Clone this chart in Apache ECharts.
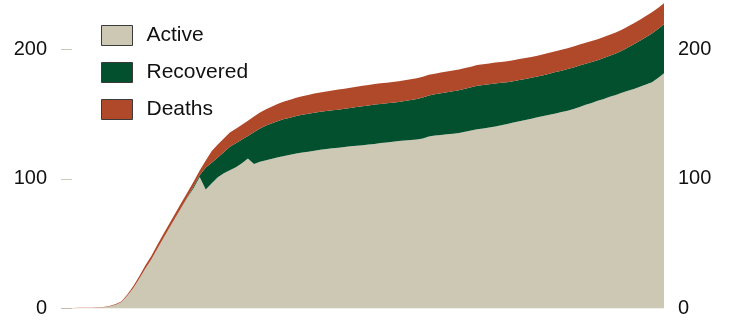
<!DOCTYPE html>
<html>
<head>
<meta charset="utf-8">
<script src="https://cdn.jsdelivr.net/npm/echarts@6/dist/echarts.min.js"></script>
<style>
html,body{margin:0;padding:0;background:#fff;}
#chart{width:733px;height:320px;}
</style>
</head>
<body>
<div id="chart"></div>
<script>
const seriesNames = ['Active', 'Recovered', 'Deaths'];
const yTicks = [0, 100, 200];

const active = [
  0.2, 0.2, 0.2, 0.3, 0.3, 0.4, 0.7, 0.9, 1.6, 2.7,
  4.8, 9.8, 15.8, 23.1, 30.8, 37.9, 46.3, 54.4, 62.3, 70.2,
  78.1, 85.8, 93.0, 101.5, 91.8, 96.6, 101.2, 104.4, 106.7, 109.0,
  112.1, 115.8, 111.4, 113.2, 114.3, 115.5, 116.6, 117.6, 118.6, 119.5,
  120.4, 121.0, 121.7, 122.4, 123.0, 123.6, 124.1, 124.6, 125.1, 125.6,
  126.0, 126.5, 127.0, 127.6, 128.1, 128.7, 129.3, 129.7, 130.0, 130.3,
  131.2, 132.7, 133.4, 133.9, 134.4, 134.9, 135.4, 136.3, 137.3, 138.2,
  138.9, 139.6, 140.5, 141.4, 142.4, 143.4, 144.4, 145.4, 146.4, 147.5,
  148.5, 149.5, 150.5, 151.6, 152.6, 153.9, 155.5, 157.1, 158.6, 160.2,
  161.7, 163.3, 164.8, 166.4, 167.9, 169.4, 171.0, 172.8, 174.6, 177.8,
  181.4
];
const recovered = [
  0, 0, 0, 0, 0, 0, 0, 0, 0, 0,
  0, 0, 0, 0, 0, 0, 0, 0, 0.1, 0.2,
  0.3, 0.5, 1.3, 1.3, 16.9, 15.9, 15.3, 16.2, 18.0, 18.5,
  18.2, 17.3, 24.6, 25.6, 26.8, 27.4, 28.1, 28.5, 28.6, 29.0,
  29.1, 29.2, 29.3, 29.3, 29.3, 29.3, 29.3, 29.5, 29.6, 29.8,
  30.1, 30.2, 30.3, 30.2, 30.2, 30.1, 30.0, 30.3, 30.8, 31.3,
  31.6, 31.6, 31.8, 32.1, 32.4, 32.7, 33.0, 33.2, 33.3, 33.6,
  33.6, 33.4, 33.1, 32.7, 32.2, 32.0, 31.9, 31.7, 31.6, 31.4,
  31.5, 31.7, 31.9, 31.9, 32.1, 32.1, 31.9, 31.7, 31.6, 31.4,
  31.5, 31.7, 32.0, 32.4, 33.4, 34.5, 35.5, 36.5, 37.6, 37.8,
  37.8
];
const deaths = [
  0.2, 0.2, 0.2, 0.2, 0.2, 0.2, 0.3, 0.3, 0.4, 0.5,
  0.6, 1.0, 1.5, 2.0, 2.5, 2.8, 3.0, 3.2, 3.3, 3.4,
  3.5, 3.5, 3.6, 3.6, 5.5, 9.0, 10.0, 10.5, 11.0, 11.2,
  11.5, 11.8, 12.1, 12.4, 12.6, 12.9, 13.2, 13.5, 13.8, 14.0,
  14.3, 14.5, 14.8, 15.0, 15.1, 15.3, 15.5, 15.5, 15.6, 15.7,
  15.7, 15.8, 15.8, 15.9, 15.9, 16.0, 16.0, 16.0, 16.0, 16.0,
  16.0, 16.0, 16.0, 16.0, 16.0, 16.0, 16.0, 16.0, 16.0, 16.0,
  16.0, 16.1, 16.1, 16.1, 16.1, 16.1, 16.1, 16.1, 16.1, 16.1,
  16.1, 16.1, 16.1, 16.1, 16.1, 16.1, 16.2, 16.2, 16.2, 16.2,
  16.2, 16.2, 16.2, 16.2, 16.2, 16.2, 16.3, 16.3, 16.3, 16.3,
  16.3
];
const days = active.map((_, i) => 'Day ' + (i + 1));

const colors = ['#cdc8b4', '#03502f', '#b0482a'];
const FONT = '"Liberation Sans", Arial, sans-serif';

const chart = echarts.init(document.getElementById('chart'), null, {renderer: 'canvas'});

function mkYAxis(pos) {
  return {
    type: 'value',
    position: pos,
    min: 0,
    max: 238,
    interval: 100,
    splitLine: {show: false},
    axisLine: {show: false},
    axisTick: pos === 'left'
      ? {show: true, inside: true, length: 11, customValues: yTicks,
         lineStyle: {color: '#cfcab6', width: 1}}
      : {show: false},
    axisLabel: {
      show: true,
      margin: 14,
      color: '#111',
      fontFamily: FONT,
      fontSize: 20,
      customValues: yTicks,
      formatter: v => (yTicks.indexOf(v) >= 0 ? String(v) : '')
    }
  };
}

const series = [active, recovered, deaths].map((arr, k) => ({
  name: seriesNames[k],
  type: 'line',
  stack: 'total',
  yAxisIndex: 0,
  data: arr,
  symbol: 'none',
  showSymbol: false,
  lineStyle: {width: 0},
  areaStyle: {color: colors[k], opacity: 1},
  itemStyle: {color: colors[k]},
  z: 2
}));

chart.setOption({
  animation: false,
  color: colors,
  grid: {left: 61, right: 69, top: 0, bottom: 11.5, containLabel: false},
  legend: {
    orient: 'vertical',
    left: 101,
    top: 25,
    padding: 0,
    icon: 'rect',
    itemWidth: 31,
    itemHeight: 20,
    itemGap: 16,
    itemStyle: {borderColor: '#3a3a3a', borderWidth: 1},
    textStyle: {fontFamily: FONT, fontSize: 21, color: '#111', padding: [0, 0, 0, 9]},
    data: seriesNames
  },
  xAxis: {
    type: 'category',
    data: days,
    boundaryGap: false,
    axisLine: {show: false},
    axisTick: {show: false},
    axisLabel: {show: false},
    splitLine: {show: false}
  },
  yAxis: [mkYAxis('left'), mkYAxis('right')],
  series: series
});
</script>
</body>
</html>
